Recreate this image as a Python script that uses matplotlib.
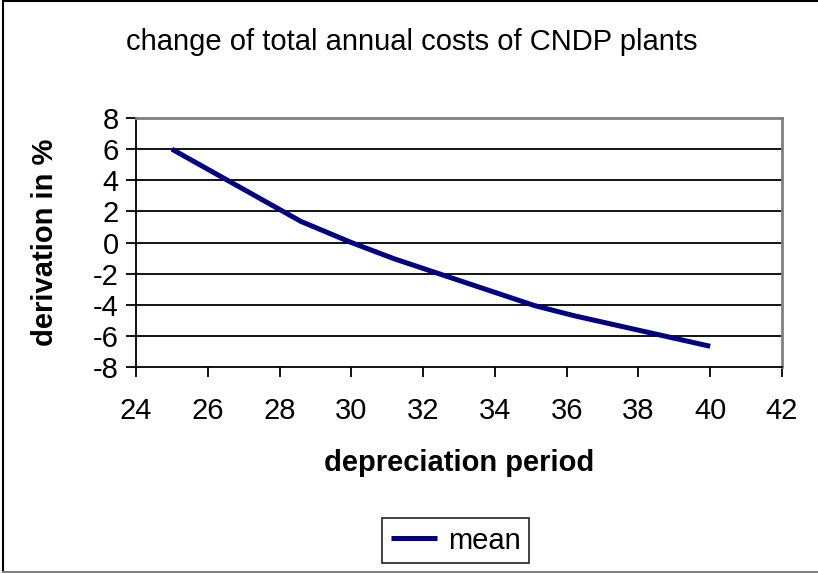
import matplotlib
matplotlib.use("Agg")
import matplotlib.pyplot as plt
from matplotlib.lines import Line2D

plt.rcParams['font.family'] = ['Liberation Sans', 'DejaVu Sans']
plt.rcParams['axes.unicode_minus'] = False

# datos
periodo = [25, 28.6, 30, 31.2, 35.1, 36.2, 40]
desviacion = [6.0, 1.35, 0.0, -1.05, -4.05, -4.7, -6.67]
xticks = [24, 26, 28, 30, 32, 34, 36, 38, 40, 42]
yticks = [-8, -6, -4, -2, 0, 2, 4, 6, 8]

fig = plt.figure(figsize=(8.18, 5.73), dpi=100)
ax = fig.add_axes([0.1663, 0.3595, 0.7897, 0.4345])

for y in yticks[1:-1]:
    ax.axhline(y, color='black', lw=1.3, zorder=1)

ax.plot(periodo, desviacion, color='#000080', lw=3.6, label='mean', zorder=3,
        solid_capstyle='butt')

ax.set_xlim(24, 42)
ax.set_ylim(-8, 8)
ax.set_xticks(xticks)
ax.set_yticks(yticks)
ax.tick_params(axis='both', labelsize=21, length=7.5, width=1.3, color='black')
ax.tick_params(axis='x', pad=14)
ax.tick_params(axis='y', pad=5)

ax.spines['left'].set_color('black')
ax.spines['bottom'].set_color('black')
ax.spines['left'].set_linewidth(1.3)
ax.spines['bottom'].set_linewidth(1.3)
ax.spines['top'].set_color('#808080')
ax.spines['right'].set_color('#808080')
ax.spines['top'].set_linewidth(2)
ax.spines['right'].set_linewidth(2)

ax.set_xlabel('depreciation period', fontsize=21, fontweight='bold', va='center')
ax.set_ylabel('derivation in %', fontsize=21, fontweight='bold', va='center')
ax.xaxis.set_label_coords(0.5, -0.386)
ax.yaxis.set_label_coords(-0.141, 0.5)
fig.text(0.503, 0.927, 'change of total annual costs of CNDP plants', fontsize=21,
         ha='center', va='center')

leg = fig.legend(loc='center', bbox_to_anchor=(0.557, 0.0567), fontsize=21,
                 frameon=True, fancybox=False, edgecolor='black', handlelength=1.6,
                 handletextpad=0.35, borderpad=0.3, borderaxespad=0)
leg.get_frame().set_linewidth(1.3)

# borde del area del grafico
fig.add_artist(Line2D([0.004, 0.004], [0, 0.998], transform=fig.transFigure, color='black', lw=1.5))
fig.add_artist(Line2D([0.004, 1], [0.998, 0.998], transform=fig.transFigure, color='black', lw=1.5))
fig.add_artist(Line2D([0.004, 1], [0.002, 0.002], transform=fig.transFigure, color='#808080', lw=1.5))

fig.savefig('out.png', dpi=100)
